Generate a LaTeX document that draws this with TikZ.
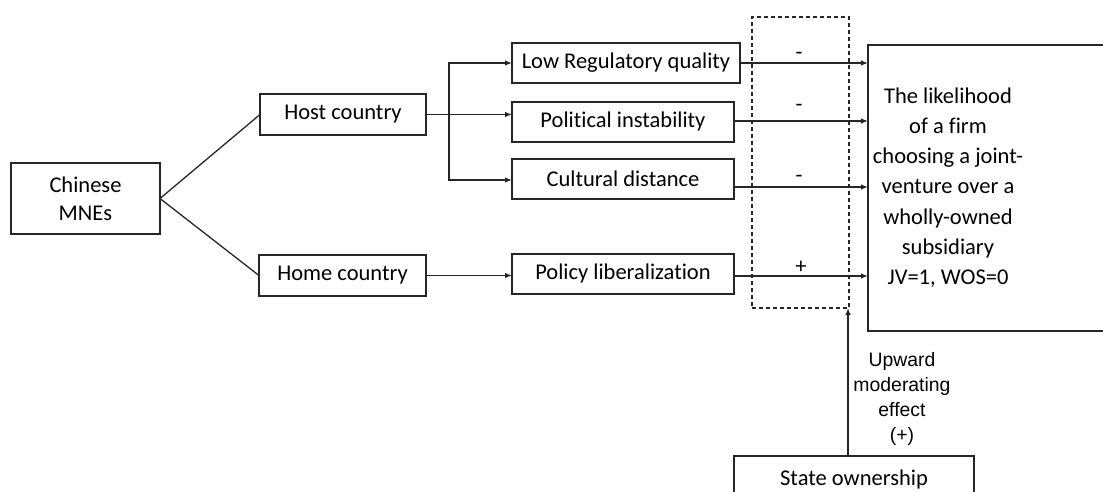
\documentclass[tikz,border=0pt]{standalone}
\usepackage{fontspec}
\setmainfont{Carlito}[Ligatures={NoCommon}]
\newfontfamily\arialfont{Liberation Sans}
\usetikzlibrary{arrows.meta}
\begin{document}
\begin{tikzpicture}[x=1pt,y=-1pt,
  every node/.style={inner sep=0pt,outer sep=0pt},
  box/.style={draw=black!85,line width=1.3pt,font=\fontsize{22.5}{28}\selectfont,align=center},
  conn/.style={draw=black!85,line width=1.3pt},
  arr/.style={conn,-{Latex[length=7pt,width=5.5pt]}},
  sign/.style={font=\fontsize{22.5}{28}\selectfont}]
\clip (0,0) rectangle (1103,492);
\fill[white] (0,0) rectangle (1103,492);
% nodes
\node[box,minimum width=149pt,minimum height=71pt] (mne) at (85.5,198.5) {Chinese\\MNEs};
\node[box,minimum width=166pt,minimum height=41pt] (host) at (343,114.5) {Host country};
\node[box,minimum width=167pt,minimum height=41pt] (home) at (342.5,275.5) {Home country};
\node[box,minimum width=228pt,minimum height=40pt] (lowreg) at (626,63) {Low Regulatory quality};
\node[box,minimum width=222pt,minimum height=40pt] (polit) at (623,122) {Political instability};
\node[box,minimum width=222pt,minimum height=40pt] (cult) at (623,179) {Cultural distance};
\node[box,minimum width=222pt,minimum height=40pt] (policy) at (623,274) {Policy liberalization};
\node[draw=black!85,line width=1.2pt,dash pattern=on 4pt off 3pt,minimum width=97pt,minimum height=291pt] (dash) at (800.5,162.5) {};
\node[draw=black!85,line width=1.3pt,minimum width=260pt,minimum height=286pt] (outbox) at (998,188) {};
\node[font=\fontsize{22.5}{30.2}\selectfont,align=center] (outtext) at (948,187.5) {The likelihood\\of a firm\\choosing a joint-\\venture over a\\wholly-owned\\subsidiary\\JV=1, WOS=0};
\node[box,minimum width=240pt,minimum height=46pt] (state) at (854,479) {State ownership};
\node[font=\arialfont\fontsize{19.4}{25}\selectfont,align=center] (mod) at (902,399) {Upward\\moderating\\effect\\(+)};
% connectors
\draw[conn] (mne.east) -- (host.west);
\draw[conn] (mne.east) -- (home.west);
\coordinate (split) at (449,114.5);
\draw[arr] (host.east) -- (host.east -| polit.west);
\draw[arr] (split) |- (lowreg.west);
\draw[arr] (split) |- ([yshift=-1pt]cult.west);
\draw[arr] (home.east) -- (home.east -| policy.west);
\draw[arr] (lowreg.east) -- (lowreg.east -| outbox.west);
\draw[arr] ([yshift=1pt]polit.east) -- ([yshift=1pt]polit.east -| outbox.west);
\draw[arr] ([yshift=-8pt]cult.east) -- ([yshift=-8pt]cult.east -| outbox.west);
\draw[arr] ([yshift=-2pt]policy.east) -- ([yshift=-2pt]policy.east -| outbox.west);
\coordinate (stup) at (848,456);
\draw[arr] (stup) -- (stup |- dash.south);
% signs
\node[sign] (s1) at (799,56) {-};
\node[sign] (s2) at (799,108) {-};
\node[sign] (s3) at (799,179) {-};
\node[sign] (s4) at (801,267) {+};
\end{tikzpicture}
\end{document}
